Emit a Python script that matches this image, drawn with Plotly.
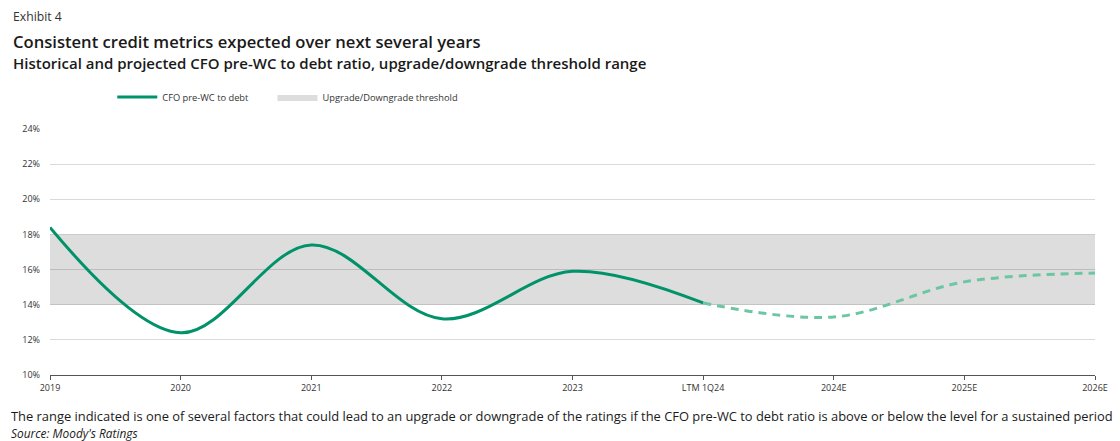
import plotly.graph_objects as go

categories = ["2019", "2020", "2021", "2022", "2023", "LTM 1Q24", "2024E", "2025E", "2026E"]
historical = [18.4, 12.4, 17.4, 13.2, 15.9, 14.1]          # 2019 .. LTM 1Q24
projected = [14.1, 13.3, 15.3, 15.8]                       # LTM 1Q24 .. 2026E
threshold_low = [14, 14, 14, 14, 14, 14, 14, 14, 14]
threshold_high = [18, 18, 18, 18, 18, 18, 18, 18, 18]
y_ticks = [10, 12, 14, 16, 18, 20, 22, 24]

# plot area in pixels
L, R, T, B = 50, 1107, 129, 375
W, H = 1120, 441


def px(xp):
    return (xp - L) / (R - L)


def py(yp):
    return (B - yp) / (B - T)


xi = list(range(len(categories)))
hist_x = xi[:len(historical)]
proj_x = xi[len(historical) - 1:]

GREEN = "rgb(0,146,104)"
GREEN_LIGHT = "rgb(108,198,162)"
FONT = "Open Sans"

fig = go.Figure()

fig.add_trace(go.Scatter(
    x=xi, y=threshold_low, mode="lines", line=dict(width=0),
    showlegend=False, hoverinfo="skip"))
fig.add_trace(go.Scatter(
    x=xi, y=threshold_high, mode="lines", line=dict(width=0),
    fill="tonexty", fillcolor="rgba(0,0,0,0.135)",
    name="Upgrade/Downgrade threshold", legend="legend2"))
fig.add_trace(go.Scatter(
    x=hist_x, y=historical, mode="lines",
    line=dict(color=GREEN, width=3, shape="spline", smoothing=1.0),
    name="CFO pre-WC to debt", legend="legend"))
fig.add_trace(go.Scatter(
    x=proj_x, y=projected, mode="lines",
    line=dict(color=GREEN_LIGHT, width=3, shape="spline", smoothing=1.0, dash="8px,6px"),
    showlegend=False))

annotations = [
    dict(text="Exhibit 4", x=px(11), y=py(17), size=12.2, color="#333333", weight=400, italic=False),
    dict(text="Consistent credit metrics expected over next several years", x=px(11), y=py(42),
         size=16.6, color="#1a1a1a", weight=600, italic=False),
    dict(text="Historical and projected CFO pre-WC to debt ratio, upgrade/downgrade threshold range",
         x=px(11), y=py(63), size=15, color="#1a1a1a", weight=600, italic=False),
    dict(text="The range indicated is one of several factors that could lead to an upgrade or downgrade of the ratings "
              "if the CFO pre-WC to debt ratio is above or below the level for a sustained period",
         x=px(9), y=py(416), size=12.9, color="#1a1a1a", weight=400, italic=False),
    dict(text="Source: Moody's Ratings", x=px(9), y=py(433), size=11.9, color="#1a1a1a", weight=400, italic=True),
]
for a in annotations:
    fig.add_annotation(
        text=a["text"], xref="paper", yref="paper", x=a["x"], y=a["y"],
        xanchor="left", yanchor="middle", showarrow=False,
        font=dict(family=FONT, size=a["size"], color=a["color"], weight=a["weight"],
                  style="italic" if a["italic"] else "normal"))

legend_common = dict(orientation="h", xanchor="left", yanchor="middle", y=py(97),
                     font=dict(size=9.3, color="#333333"),
                     bgcolor="rgba(0,0,0,0)", itemwidth=40)

fig.update_layout(
    width=W, height=H,
    margin=dict(l=L, r=W - R, t=T, b=H - B, pad=0),
    paper_bgcolor="white", plot_bgcolor="white",
    font=dict(family=FONT, color="#333333"),
    legend=dict(x=px(113), **legend_common),
    legend2=dict(x=px(275), **legend_common),
    xaxis=dict(
        range=[0, len(categories) - 1], tickmode="array", tickvals=xi, ticktext=categories,
        showgrid=False, zeroline=False, showline=True, linecolor="#555555", linewidth=1,
        ticks="outside", ticklen=4, tickcolor="#555555",
        tickfont=dict(size=9, color="#333333")),
    yaxis=dict(
        range=[10, 24], tickmode="array", tickvals=y_ticks,
        ticktext=[f"{v}%" for v in y_ticks],
        showgrid=True, gridcolor="rgba(0,0,0,0.15)", gridwidth=1, zeroline=False,
        showline=False, ticks="", tickfont=dict(size=9, color="#333333"),
        ticklabelstandoff=9),
)

fig.write_html("out.html")
